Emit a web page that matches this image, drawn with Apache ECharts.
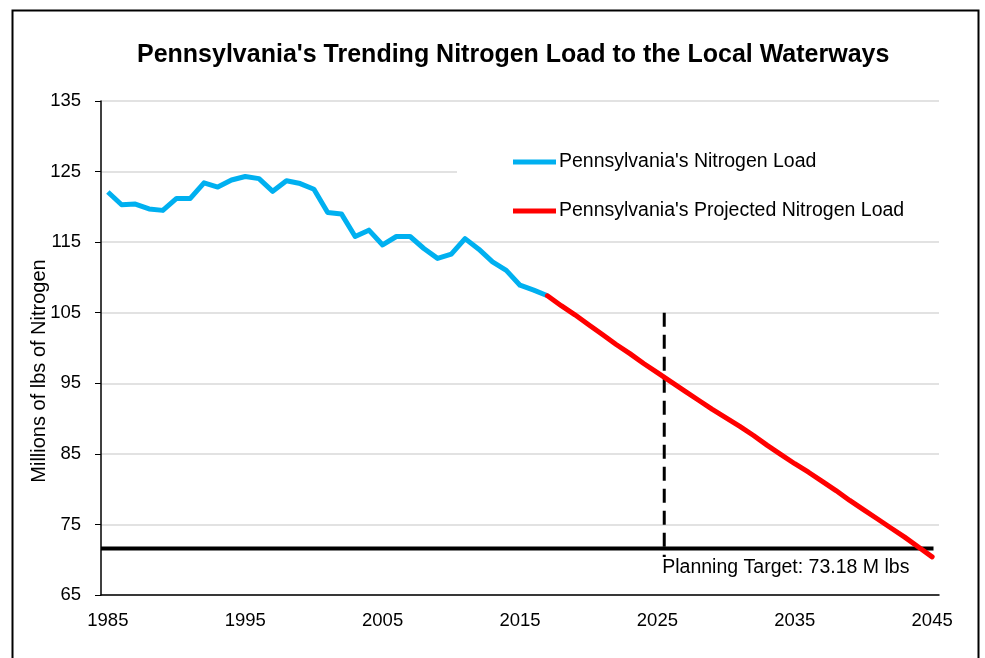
<!DOCTYPE html>
<html>
<head>
<meta charset="utf-8">
<script src="https://cdn.jsdelivr.net/npm/echarts@6/dist/echarts.min.js"></script>
<style>
  html, body { margin: 0; padding: 0; background: #fff; }
  #chart { width: 985px; height: 658px; }
</style>
</head>
<body>
<div id="chart"></div>
<script>
// years on the category axis
const years = []
for (let y = 1985; y <= 2045; y++) years.push(String(y))

// measured load 1985-2017 (millions of lbs)
const loadValues = [
  122.1, 120.3, 120.4, 119.7, 119.5, 121.2, 121.2, 123.4, 122.8, 123.8,
  124.3, 124.0, 122.2, 123.7, 123.3, 122.5, 119.2, 119.0, 115.8, 116.7,
  114.6, 115.8, 115.8, 114.1, 112.7, 113.3, 115.5, 114.0, 112.2, 111.0,
  108.9, 108.2, 107.4
]

// projected load 2017-2045
const projStart = 2017
const projValues = [
  107.4, 106.0, 104.7, 103.3, 101.9, 100.5, 99.2, 97.8, 96.5, 95.2,
  93.9, 92.6, 91.3, 90.1, 88.9, 87.6, 86.2, 84.9, 83.6, 82.4,
  81.1, 79.8, 78.4, 77.1, 75.8, 74.5, 73.2, 71.8, 70.4
]

// reference lines
const targetLevel = 71.6
const targetSpan = [1984.5, 2045.1]
const planningYear = 2025.5
const planningRange = [105, 70.4]
const targetLabel = 'Planning Target: 73.18 M lbs'

const yTicks = { min: 65, max: 135, interval: 10 }

const projData = years.map(y => {
  const i = Number(y) - projStart
  return i >= 0 && i < projValues.length ? projValues[i] : null
})

const chart = echarts.init(document.getElementById('chart'))
const font = 'Liberation Sans'

const option = {
  animation: false,
  backgroundColor: '#fff',
  title: {
    text: "Pennsylvania's Trending Nitrogen Load to the Local Waterways",
    left: 132,
    top: 38,
    textStyle: { fontFamily: font, fontSize: 25, fontWeight: 'bold', color: '#000' }
  },
  legend: {
    orient: 'vertical',
    left: 457,
    top: 142,
    padding: [10, 40, 10, 56],
    backgroundColor: '#fff',
    icon: 'rect',
    itemWidth: 43,
    itemHeight: 5,
    itemGap: 29,
    data: ["Pennsylvania's Nitrogen Load", "Pennsylvania's Projected Nitrogen Load"],
    textStyle: { fontFamily: font, fontSize: 19.5, color: '#000', padding: [0, 0, 0, -2] }
  },
  graphic: [{
    type: 'rect',
    left: 10,
    top: 8,
    shape: { width: 966, height: 670 },
    style: { fill: 'none', stroke: '#000', lineWidth: 2 },
    z: 100
  }],
  grid: { left: 101, right: 46, top: 101, bottom: 63 },
  xAxis: [{
    type: 'category',
    data: years,
    boundaryGap: true,
    axisLine: { lineStyle: { color: '#000', width: 1.5 } },
    axisTick: { interval: 0, length: 6, lineStyle: { color: '#000' } },
    axisLabel: { interval: 9, margin: 16, fontFamily: font, fontSize: 18.5, color: '#000' },
    splitLine: { show: false }
  }, {
    type: 'value',
    min: 1984.5,
    max: 2045.5,
    show: false
  }],
  yAxis: {
    type: 'value',
    min: yTicks.min,
    max: yTicks.max,
    interval: yTicks.interval,
    name: 'Millions of lbs of Nitrogen',
    nameLocation: 'middle',
    nameRotate: 90,
    nameGap: 52,
    nameMoveOverlap: false,
    nameTextStyle: { fontFamily: font, fontSize: 20, color: '#000', padding: [0, 46, 0, 0] },
    axisLine: { show: true, lineStyle: { color: '#000', width: 1.5 } },
    axisTick: { show: true, length: 6, lineStyle: { color: '#000' } },
    axisLabel: { margin: 20, fontFamily: font, fontSize: 18.5, color: '#000' },
    splitLine: { lineStyle: { color: '#d9d9d9', width: 1.5 } }
  },
  series: [
    {
      name: 'Target',
      type: 'line',
      xAxisIndex: 1,
      symbol: 'none',
      data: [[targetSpan[0], targetLevel], [targetSpan[1], targetLevel]],
      lineStyle: { color: '#000', width: 4 },
      z: 3
    },
    {
      name: 'Planning',
      type: 'line',
      xAxisIndex: 1,
      symbol: 'none',
      data: [[planningYear, planningRange[0]], [planningYear, planningRange[1]]],
      lineStyle: { color: '#000', width: 3, type: [14, 8] },
      endLabel: {
        show: true,
        formatter: targetLabel,
        position: 'bottom',
        align: 'left',
        offset: [-2, 11],
        distance: 0,
        fontFamily: font,
        fontSize: 19.5,
        color: '#000'
      },
      z: 3
    },
    {
      name: "Pennsylvania's Nitrogen Load",
      type: 'line',
      symbol: 'none',
      data: loadValues,
      color: '#00b0f0',
      lineStyle: { color: '#00b0f0', width: 5, join: 'round' },
      z: 4
    },
    {
      name: "Pennsylvania's Projected Nitrogen Load",
      type: 'line',
      symbol: 'none',
      data: projData,
      color: '#ff0000',
      lineStyle: { color: '#ff0000', width: 5, cap: 'round', join: 'round' },
      z: 5
    }
  ]
}

chart.setOption(option)

window.addEventListener('resize', () => {
  chart.resize()
})
</script>
</body>
</html>
